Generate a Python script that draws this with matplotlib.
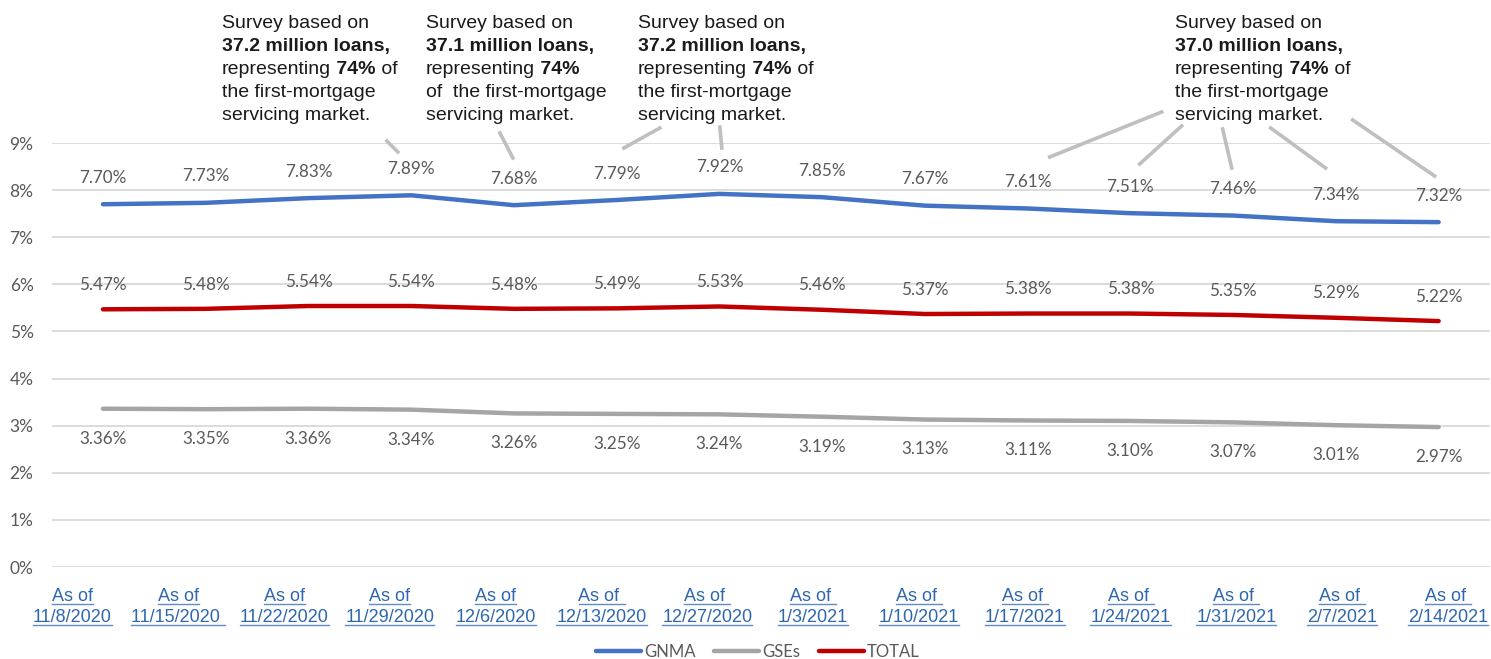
import matplotlib
matplotlib.use("Agg")
import matplotlib.pyplot as plt
from matplotlib.lines import Line2D

W, H = 1491, 659

# ---------------- data ----------------
dates = ["11/8/2020", "11/15/2020 ", "11/22/2020", "11/29/2020", "12/6/2020",
         "12/13/2020", "12/27/2020", "1/3/2021", "1/10/2021", "1/17/2021",
         "1/24/2021", "1/31/2021", "2/7/2021", "2/14/2021"]
as_of = ["As of", "As of", "As of", "As of", "As of", "As of ", "As of ", "As of ",
         "As of ", "As of ", "As of ", "As of ", "As of ", "As of "]
gnma = [7.70, 7.73, 7.83, 7.89, 7.68, 7.79, 7.92, 7.85, 7.67, 7.61, 7.51, 7.46, 7.34, 7.32]
gses = [3.36, 3.35, 3.36, 3.34, 3.26, 3.25, 3.24, 3.19, 3.13, 3.11, 3.10, 3.07, 3.01, 2.97]
total = [5.47, 5.48, 5.54, 5.54, 5.48, 5.49, 5.53, 5.46, 5.37, 5.38, 5.38, 5.35, 5.29, 5.22]
yticks = [0, 1, 2, 3, 4, 5, 6, 7, 8, 9]

# annotation boxes: (left px, lines as list of (text, weight) parts)
notes = [
    (222, [[("Survey based on", "normal")],
           [("37.2 million loans,", "bold")],
           [("representing", "normal"), (" 74%", "bold"), (" of", "normal")],
           [("the first-mortgage", "normal")],
           [("servicing market.", "normal")]]),
    (426, [[("Survey based on", "normal")],
           [("37.1 million loans,", "bold")],
           [("representing", "normal"), (" 74%", "bold")],
           [("of  the first-mortgage", "normal")],
           [("servicing market.", "normal")]]),
    (638, [[("Survey based on", "normal")],
           [("37.2 million loans,", "bold")],
           [("representing", "normal"), (" 74%", "bold"), (" of", "normal")],
           [("the first-mortgage", "normal")],
           [("servicing market.", "normal")]]),
    (1175, [[("Survey based on", "normal")],
            [("37.0 million loans,", "bold")],
            [("representing", "normal"), (" 74%", "bold"), (" of", "normal")],
            [("the first-mortgage", "normal")],
            [("servicing market.", "normal")]]),
]
# leader lines in data coordinates (category index, percent)
leaders = [
    ((2.763, 9.043), (2.870, 8.809)),
    ((3.863, 9.213), (3.990, 8.682)),
    ((5.420, 9.319), (5.070, 8.894)),
    ((6.004, 9.340), (6.023, 8.894)),
    ((10.304, 9.658), (9.215, 8.703)),
    ((10.499, 9.361), (10.090, 8.554)),
    ((10.898, 9.297), (10.986, 8.469)),
    ((11.365, 9.319), (11.900, 8.469)),
    ((12.163, 9.489), (12.961, 8.300)),
]

# ---------------- style ----------------
C_GNMA = "#4472C4"
C_GSE = "#A5A5A5"
C_TOT = "#C00000"
C_TXT = "#595959"
C_LINK = "#2E67AE"
LBL_FONT = "Lato"
SANS = "Liberation Sans"

fig = plt.figure(figsize=(W / 100, H / 100), dpi=100)
ax = fig.add_axes([51.6 / W, 1 - 567 / H, (1490 - 51.6) / W, (567 - 143) / H])

x = list(range(len(dates)))
lw = 3.2
ax.plot(x, gnma, color=C_GNMA, lw=lw, solid_capstyle="round", label="GNMA", zorder=3)
ax.plot(x, gses, color=C_GSE, lw=lw, solid_capstyle="round", label="GSEs", zorder=3)
ax.plot(x, total, color=C_TOT, lw=lw, solid_capstyle="round", label="TOTAL", zorder=3)

ax.set_xlim(-0.5, len(dates) - 0.5)
ax.set_ylim(0, 9)
ax.set_yticks(yticks)
ax.set_yticklabels([f"{v}%" for v in yticks], fontsize=12.5, color=C_TXT, family=LBL_FONT)
ax.tick_params(axis="y", length=0, pad=13)
ax.set_xticks(x)
ax.set_xticklabels([])
ax.tick_params(axis="x", length=0)
ax.grid(axis="y", color="#D9D9D9", lw=1.3)
ax.set_axisbelow(True)
for s in ax.spines.values():
    s.set_visible(False)

# data labels
LS = 12.3
for xi, v in zip(x, gnma):
    ax.annotate(f"{v:.2f}%", (xi, v), xytext=(0, 19), textcoords="offset points",
                ha="center", va="center", fontsize=LS, color=C_TXT, family=LBL_FONT)
for xi, v in zip(x, total):
    ax.annotate(f"{v:.2f}%", (xi, v), xytext=(0, 17.5), textcoords="offset points",
                ha="center", va="center", fontsize=LS, color=C_TXT, family=LBL_FONT)
for xi, v in zip(x, gses):
    ax.annotate(f"{v:.2f}%", (xi, v), xytext=(0, -21.5), textcoords="offset points",
                ha="center", va="center", fontsize=LS, color=C_TXT, family=LBL_FONT)

# leader lines
for (a, b) in leaders:
    ax.add_line(Line2D([a[0], b[0]], [a[1], b[1]], color="#BFBFBF", lw=2.6,
                       clip_on=False, zorder=2))

fig.canvas.draw()
renderer = fig.canvas.get_renderer()

# annotation text blocks
baselines = [28, 51, 74, 97, 120]
for left, lines in notes:
    for by, parts in zip(baselines, lines):
        cx = left
        for txt, wt in parts:
            t = fig.text(cx / W, 1 - by / H, txt, fontsize=14, family=SANS,
                         weight=wt, color="#1A1A1A", ha="left", va="baseline")
            bb = t.get_window_extent(renderer)
            cx = bb.x1

# x category labels (blue, underlined)
for i in x:
    cpx = 72.5 + i * 105.8
    for txt, by in ((as_of[i], 601), (dates[i], 622)):
        t = fig.text(cpx / W, 1 - by / H, txt, fontsize=13, family=SANS,
                     color=C_LINK, ha="center", va="baseline")
        bb = t.get_window_extent(renderer)
        yline = (H - by - 2.5) / H
        fig.add_artist(Line2D([bb.x0 / W, bb.x1 / W], [yline, yline],
                              color="#5F8CC6", lw=1.0, transform=fig.transFigure))

# legend
leg = fig.legend(loc="center", bbox_to_anchor=(758 / W, 1 - 652 / H), ncol=3,
                 frameon=False, handlelength=2.7, handletextpad=0.2,
                 columnspacing=1.1, prop={"family": LBL_FONT, "size": 12})
for t in leg.get_texts():
    t.set_color(C_TXT)

fig.savefig("out.png", dpi=100)
